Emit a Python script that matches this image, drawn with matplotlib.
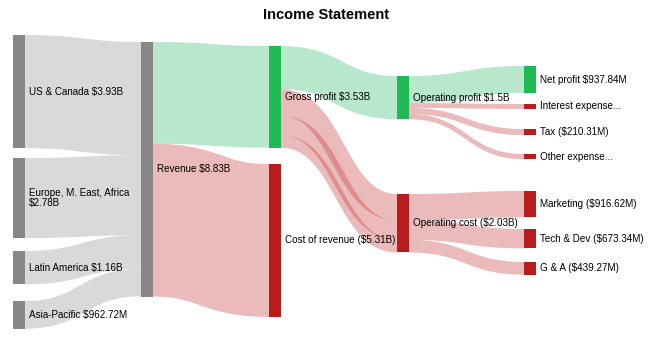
import matplotlib.pyplot as plt
import numpy as np

plt.rcParams['font.family'] = ['Liberation Sans', 'DejaVu Sans']

# --- data (values in $M) ---
node_labels = [
    'US & Canada $3.93B', 'Europe, M. East, Africa\n$2.78B', 'Latin America $1.16B',
    'Asia-Pacific $962.72M', 'Revenue $8.83B', 'Gross profit $3.53B',
    'Cost of revenue ($5.31B)', 'Operating profit $1.5B', 'Operating cost ($2.03B)',
    'Net profit $937.84M', 'Interest expense...', 'Tax ($210.31M)', 'Other expense...',
    'Marketing ($916.62M)', 'Tech & Dev ($673.34M)', 'G & A ($439.27M)',
]
node_kind = ['region'] * 5 + ['profit', 'cost', 'profit', 'cost', 'profit',
                              'cost', 'cost', 'cost', 'cost', 'cost', 'cost']

link_source = [0, 1, 2, 3, 4, 4, 5, 5, 5, 5, 7, 7, 7, 7, 8, 8, 8]
link_target = [4, 4, 4, 4, 5, 6, 7, 8, 8, 8, 9, 10, 11, 12, 13, 14, 15]
link_value = [3930, 2780, 1160, 962.72, 3530, 5310, 1500, 916.62, 673.34, 439.27,
              937.84, 170, 210.31, 181.85, 916.62, 673.34, 439.27]

# --- layout (pixel space) ---
col_x = [13, 141, 269, 397, 524]
node_col = [0, 0, 0, 0, 1, 2, 2, 3, 3, 4, 4, 4, 4, 4, 4, 4]
node_top = [35, 158, 251, 301, 42, 46, 164, 76, 194, 66, 104, 129, 154, 191, 229, 262]
node_w = 11.5
px_per_m = 0.0288
blend = 0.5  # how much the ribbon keeps a perpendicular thickness

node_colors = {'region': '#8a8686', 'profit': '#1fba55', 'cost': '#b91c1c'}
link_colors = {'region': (0.58, 0.58, 0.58, 0.35),
               'profit': (0.20, 0.75, 0.43, 0.35),
               'cost': (0.78, 0.23, 0.23, 0.35)}

fig = plt.figure(figsize=(6.5, 3.54), dpi=100)
ax = fig.add_axes([0, 0, 1, 1])
ax.set_xlim(0, 650)
ax.set_ylim(354, 0)
ax.axis('off')

n = len(node_labels)
inflow = np.zeros(n)
outflow = np.zeros(n)
for s, t, v in zip(link_source, link_target, link_value):
    outflow[s] += v
    inflow[t] += v
node_h = np.maximum(inflow, outflow) * px_per_m

# stacking offsets of links at each node
out_off = np.array(node_top, dtype=float)
in_off = np.array(node_top, dtype=float)
order = sorted(range(len(link_value)),
               key=lambda i: (link_source[i], node_top[link_target[i]], i))
link_y0 = {}
for i in order:
    w = link_value[i] * px_per_m
    link_y0[i] = out_off[link_source[i]] + w / 2
    out_off[link_source[i]] += w
order = sorted(range(len(link_value)),
               key=lambda i: (link_target[i], node_top[link_source[i]], i))
link_y1 = {}
for i in order:
    w = link_value[i] * px_per_m
    link_y1[i] = in_off[link_target[i]] + w / 2
    in_off[link_target[i]] += w

t = np.linspace(0, 1, 120)
for i, (s, tg, v) in enumerate(zip(link_source, link_target, link_value)):
    w = v * px_per_m
    x0 = col_x[node_col[s]] + node_w
    x1 = col_x[node_col[tg]]
    y0, y1 = link_y0[i], link_y1[i]
    xm = (x0 + x1) / 2
    # cubic bezier centre line
    bx = (1 - t) ** 3 * x0 + 3 * (1 - t) ** 2 * t * xm + 3 * (1 - t) * t ** 2 * xm + t ** 3 * x1
    by = (1 - t) ** 3 * y0 + 3 * (1 - t) ** 2 * t * y0 + 3 * (1 - t) * t ** 2 * y1 + t ** 3 * y1
    dx = 3 * (1 - t) ** 2 * (xm - x0) + 3 * t ** 2 * (x1 - xm)
    dy = 6 * (1 - t) * t * (y1 - y0)
    norm = np.hypot(dx, dy)
    nx = blend * (-dy / norm)
    ny = blend * (dx / norm) + (1 - blend)
    px = np.concatenate([bx + nx * w / 2, (bx - nx * w / 2)[::-1]])
    py = np.concatenate([by + ny * w / 2, (by - ny * w / 2)[::-1]])
    ax.fill(px, py, color=link_colors[node_kind[tg]], lw=0)

for k in range(n):
    x = col_x[node_col[k]]
    ax.add_patch(plt.Rectangle((x, node_top[k]), node_w, node_h[k],
                               color=node_colors[node_kind[k]], lw=0))
    ax.text(x + node_w + 4.5, node_top[k] + node_h[k] / 2, node_labels[k],
            ha='left', va='center', fontsize=7.1, color='black', linespacing=1.0)

ax.text(326, 15, 'Income Statement', ha='center', va='center',
        fontsize=10.5, fontweight='bold')

fig.savefig('out.png', dpi=100)
